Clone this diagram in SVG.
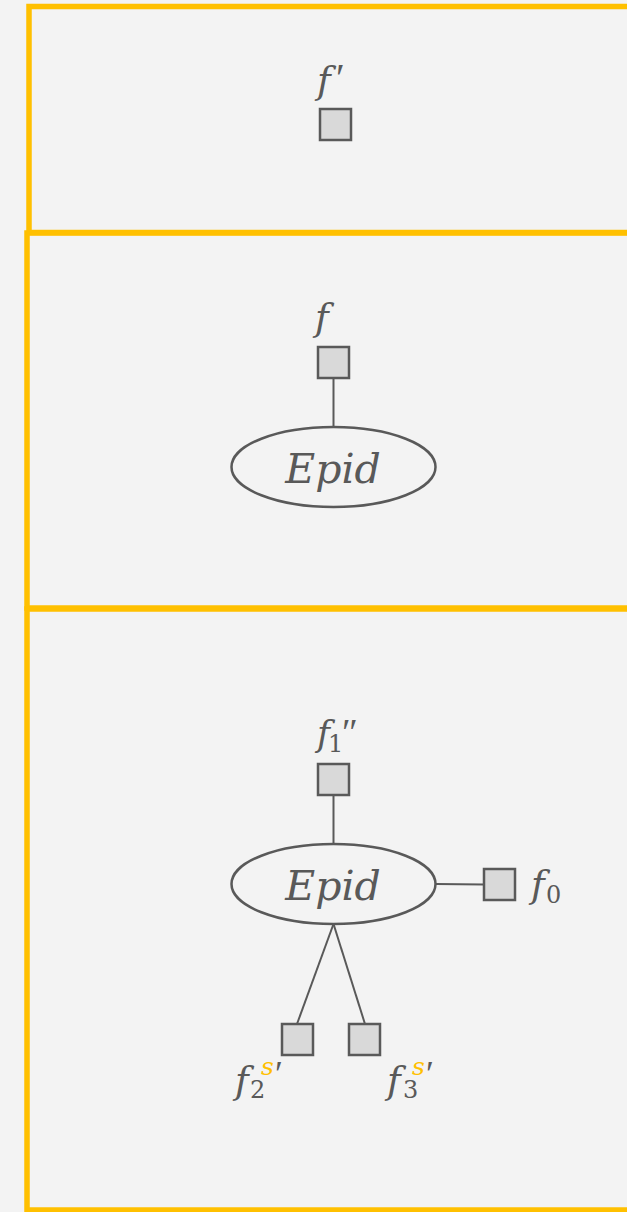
<svg xmlns="http://www.w3.org/2000/svg" width="627" height="1212" viewBox="0 0 627 1212">
  <style>
    .frame { fill: none; stroke: #FFC000; stroke-width: 5.5; }
    .fac { fill: #D9D9D9; stroke: #595959; stroke-width: 2.5; }
    .var { fill: none; stroke: #595959; stroke-width: 2.5; }
    .edge { stroke: #595959; stroke-width: 2; fill: none; }
    .lbl { font-family: "DejaVu Serif", "Liberation Serif", serif; font-style: italic; fill: #595959; }
    .num { font-style: normal; font-size: 24px; }
    .pr { font-family: "Liberation Serif", "DejaVu Serif", serif; font-style: normal; }
    .hl { fill: #FFC000; font-size: 25px; }
  </style>
  <rect width="627" height="1212" fill="#F3F3F3"/>

  <!-- plate frames -->
  <g id="frames">
    <rect class="frame" x="29" y="6.5" width="620" height="226"/>
    <rect class="frame" x="27" y="233" width="620" height="375"/>
    <rect class="frame" x="27" y="609" width="620" height="601"/>
  </g>

  <!-- connectors -->
  <g id="edges">
    <line class="edge" x1="333.5" y1="378" x2="333.5" y2="427"/>
    <line class="edge" x1="333.5" y1="795" x2="333.5" y2="844"/>
    <line class="edge" x1="436" y1="884" x2="484" y2="884.5"/>
    <line class="edge" x1="333.5" y1="924" x2="297" y2="1024"/>
    <line class="edge" x1="333.5" y1="924" x2="365" y2="1024"/>
  </g>

  <!-- top plate -->
  <g id="f-prime">
    <rect class="fac" x="320" y="109" width="31" height="31"/>
    <text class="lbl" font-size="37"><tspan x="317" y="93">f</tspan><tspan class="pr" x="336" y="91" font-size="40">′</tspan></text>
  </g>

  <!-- middle plate -->
  <g id="f">
    <rect class="fac" x="318" y="347" width="31" height="31"/>
    <text class="lbl" x="315" y="330" font-size="37">f</text>
  </g>
  <g id="epid-1">
    <ellipse class="var" cx="333.5" cy="467" rx="102" ry="40"/>
    <text class="lbl" x="333" y="483" font-size="41" text-anchor="middle">Epid</text>
  </g>

  <!-- bottom plate -->
  <g id="f1">
    <rect class="fac" x="318" y="764" width="31" height="31"/>
    <text class="lbl" font-size="35"><tspan x="317" y="746">f</tspan><tspan class="num" x="328" y="752">1</tspan><tspan class="pr" x="342" y="745" font-size="38">″</tspan></text>
  </g>
  <g id="epid-2">
    <ellipse class="var" cx="333.5" cy="884" rx="102" ry="40"/>
    <text class="lbl" x="333" y="900" font-size="41" text-anchor="middle">Epid</text>
  </g>
  <g id="f0">
    <rect class="fac" x="484" y="869" width="31" height="31"/>
    <text class="lbl" font-size="37"><tspan x="531" y="897">f</tspan><tspan class="num" x="546" y="903">0</tspan></text>
  </g>
  <g id="f2">
    <rect class="fac" x="282" y="1024" width="31" height="31"/>
    <text class="lbl" font-size="37"><tspan x="235" y="1093">f</tspan><tspan class="num" x="250" y="1098">2</tspan><tspan class="hl" x="261" y="1075">s</tspan><tspan class="pr" x="275" y="1086" font-size="36">′</tspan></text>
  </g>
  <g id="f3">
    <rect class="fac" x="349" y="1024" width="31" height="31"/>
    <text class="lbl" font-size="37"><tspan x="387" y="1093">f</tspan><tspan class="num" x="403" y="1098">3</tspan><tspan class="hl" x="412" y="1075">s</tspan><tspan class="pr" x="426" y="1086" font-size="36">′</tspan></text>
  </g>
</svg>
